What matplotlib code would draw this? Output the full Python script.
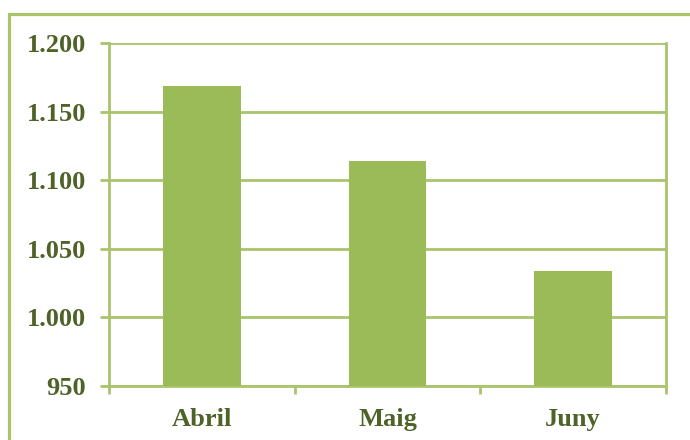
import matplotlib.pyplot as plt
from matplotlib.patches import Rectangle
from matplotlib.ticker import FuncFormatter

# Data
months = ['Abril', 'Maig', 'Juny']
values = [1169, 1114, 1034]
y_ticks = [950, 1000, 1050, 1100, 1150, 1200]

bar_color = '#9BBB59'
line_color = '#A9C46C'
text_color = '#4F6228'

plt.rcParams['font.family'] = ['Liberation Serif', 'DejaVu Serif']

fig = plt.figure(figsize=(6.9, 4.4), dpi=100)
ax = fig.add_axes([109/690, 1 - 386/440, (666 - 109)/690, (386 - 43)/440])

x = range(len(months))
ax.bar(x, [v - 950 for v in values], bottom=950, width=0.42, color=bar_color, zorder=3)

ax.set_xlim(-0.5, 2.5)
ax.set_ylim(950, 1200)
ax.set_yticks(y_ticks)
ax.yaxis.set_major_formatter(FuncFormatter(lambda v, p: f"{int(v):,}".replace(',', '.')))

# category boundary ticks (major) and labels at centers (minor)
ax.set_xticks([-0.5, 0.5, 1.5, 2.5])
ax.set_xticklabels([])
ax.set_xticks(list(x), minor=True)
ax.set_xticklabels(months, minor=True)
ax.tick_params(axis='x', which='major', length=6, width=2, color=line_color)
ax.tick_params(axis='x', which='minor', length=0, pad=16, labelsize=19, labelcolor=text_color)
ax.tick_params(axis='y', length=6.5, width=2, color=line_color, pad=10,
               labelsize=19, labelcolor=text_color)
for lab in ax.get_xticklabels(minor=True) + ax.get_yticklabels():
    lab.set_fontweight('bold')

ax.grid(axis='y', color=line_color, linewidth=2, zorder=1)
ax.spines['top'].set_visible(False)
for s in ['left', 'right', 'bottom']:
    ax.spines[s].set_color(line_color)
    ax.spines[s].set_linewidth(2)

# outer chart border (only top and left visible in the crop)
fig.patches.append(Rectangle((9/690, -0.2), 2, 1.2 - 14/440, transform=fig.transFigure,
                             fill=False, edgecolor=line_color, linewidth=2.3, zorder=0))

fig.savefig('out.png', dpi=100)
